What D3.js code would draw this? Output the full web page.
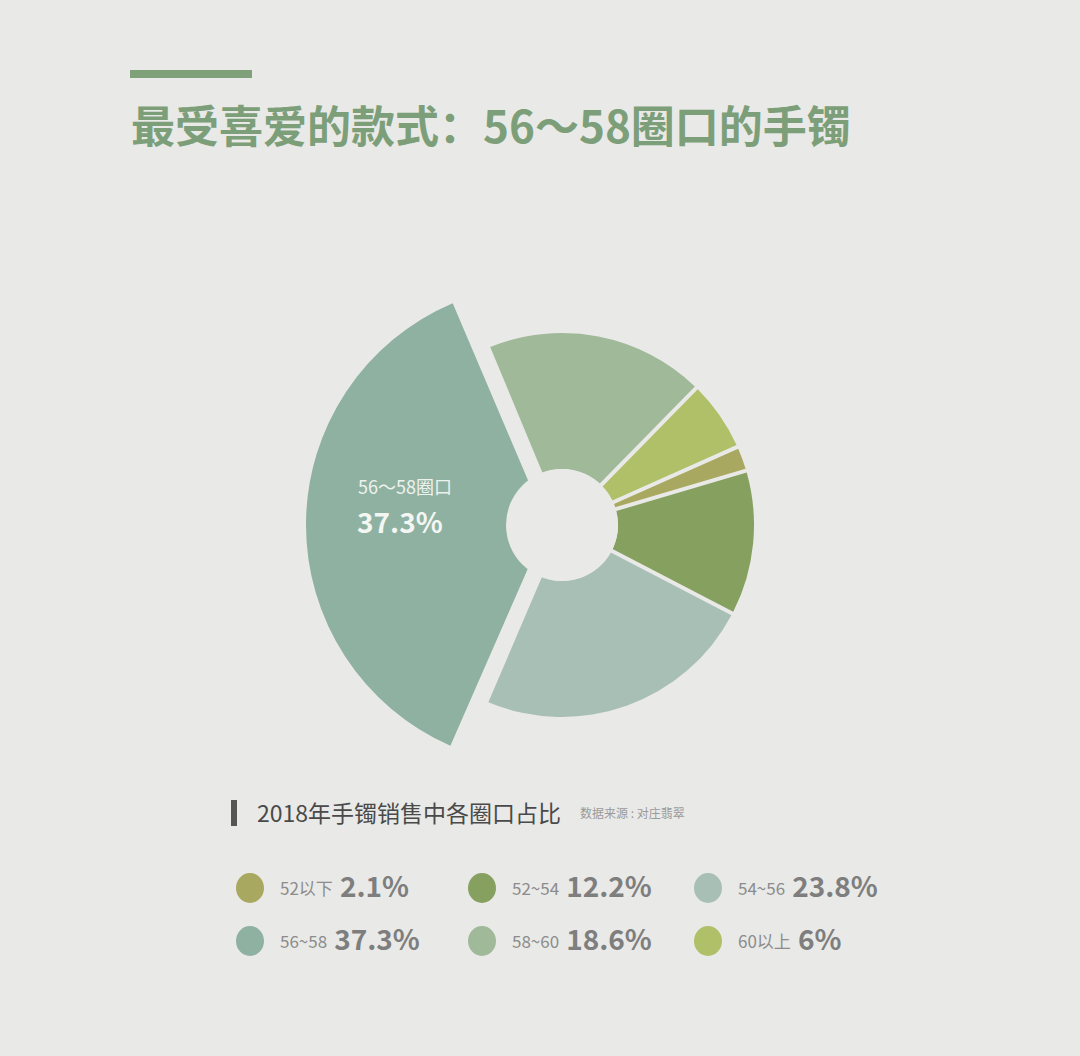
<!DOCTYPE html>
<html>
<head>
<meta charset="utf-8">
<script src="https://cdn.jsdelivr.net/npm/d3@7"></script>
<style>
  html, body { margin: 0; padding: 0; background: #e9e9e7; }
  svg { display: block; font-family: "Noto Sans CJK SC", "Noto Sans", sans-serif; }
</style>
</head>
<body>
<div id="chart"></div>
<script>
var width = 1080;
var height = 1056;

// Data (legend order, which is also the clockwise order of the pie)
var categories = ['52以下', '52~54', '54~56', '56~58', '58~60', '60以上'];
var shares = [2.1, 12.2, 23.8, 37.3, 18.6, 6];
var shareLabels = ['2.1%', '12.2%', '23.8%', '37.3%', '18.6%', '6%'];
var colors = ['#a9a860', '#86a05f', '#a8bfb5', '#8eb1a1', '#9fb999', '#afc068'];
var highlight = '56~58';

var bg = '#e9e9e7';
var cx = 562, cy = 525;
var innerR = 56, outerR = 192, bigR = 241, bigShift = 15;

var svg = d3.select('#chart')
  .append('svg')
  .attr('width', width)
  .attr('height', height);

svg.append('rect').attr('width', width).attr('height', height).attr('fill', bg);

// Title block
svg.append('rect')
  .attr('x', 130).attr('y', 70)
  .attr('width', 122).attr('height', 8)
  .attr('fill', '#7fa078');

svg.append('text')
  .attr('x', 131).attr('y', 143)
  .attr('font-size', 44)
  .attr('font-weight', 700)
  .attr('fill', '#7c9f79')
  .text('最受喜爱的款式：56～58圈口的手镯');

// Pie
var deg = Math.PI / 180;
var pie = d3.pie()
  .sort(null)
  .value(function (d) { return d; })
  .startAngle(66 * deg)
  .endAngle(426 * deg);

var arcs = pie(shares);

var arcSmall = d3.arc()
  .innerRadius(innerR)
  .outerRadius(outerR)
  .padAngle(0.02)
  .padRadius(200);

var arcBig = d3.arc()
  .innerRadius(0)
  .outerRadius(bigR)
  .padAngle(0.02)
  .padRadius(200);

var g = svg.append('g').attr('transform', 'translate(' + cx + ',' + cy + ')');

g.selectAll('path')
  .data(arcs)
  .enter()
  .append('path')
  .attr('d', function (d, i) {
    return categories[i] === highlight ? arcBig(d) : arcSmall(d);
  })
  .attr('transform', function (d, i) {
    if (categories[i] !== highlight) return null;
    var mid = (d.startAngle + d.endAngle) / 2;
    return 'translate(' + (Math.sin(mid) * bigShift) + ',' + (-Math.cos(mid) * bigShift) + ')';
  })
  .attr('fill', function (d, i) { return colors[i]; });

// Centre hole
g.append('circle').attr('r', innerR).attr('fill', bg);

// Label inside the highlighted slice
var hi = categories.indexOf(highlight);
g.append('text')
  .attr('x', -204).attr('y', -31)
  .attr('font-size', 18)
  .attr('fill', '#eef2ee')
  .text('56～58圈口');
g.append('text')
  .attr('x', -205).attr('y', 8)
  .attr('font-size', 28)
  .attr('font-weight', 700)
  .attr('fill', '#f4f6f3')
  .text(shareLabels[hi]);

// Legend header
svg.append('rect')
  .attr('x', 231).attr('y', 800)
  .attr('width', 6).attr('height', 26)
  .attr('fill', '#555');

svg.append('text')
  .attr('x', 257).attr('y', 822)
  .attr('font-size', 23)
  .attr('fill', '#4a4a4a')
  .text('2018年手镯销售中各圈口占比');

svg.append('text')
  .attr('x', 580).attr('y', 818)
  .attr('font-size', 12)
  .attr('fill', '#9a9a9a')
  .text('数据来源 : 对庄翡翠');

// Legend items
var colX = [250, 482, 708];
var rowY = [888, 941];

var item = svg.selectAll('g.legend')
  .data(categories)
  .enter()
  .append('g')
  .attr('class', 'legend')
  .attr('transform', function (d, i) {
    return 'translate(' + colX[i % 3] + ',' + rowY[Math.floor(i / 3)] + ')';
  });

item.append('ellipse')
  .attr('rx', 14).attr('ry', 15)
  .attr('fill', function (d, i) { return colors[i]; });

item.append('text')
  .attr('class', 'lab')
  .attr('x', 30).attr('y', 7)
  .attr('font-size', 17)
  .attr('fill', '#8c8c8c')
  .text(function (d) { return d; });

item.append('text')
  .attr('x', function () {
    var lab = this.parentNode.querySelector('.lab');
    return 30 + lab.getComputedTextLength() + 7;
  })
  .attr('y', 9)
  .attr('font-size', 28)
  .attr('font-weight', 700)
  .attr('fill', '#7e7e7e')
  .text(function (d, i) { return shareLabels[i]; });
</script>
</body>
</html>
